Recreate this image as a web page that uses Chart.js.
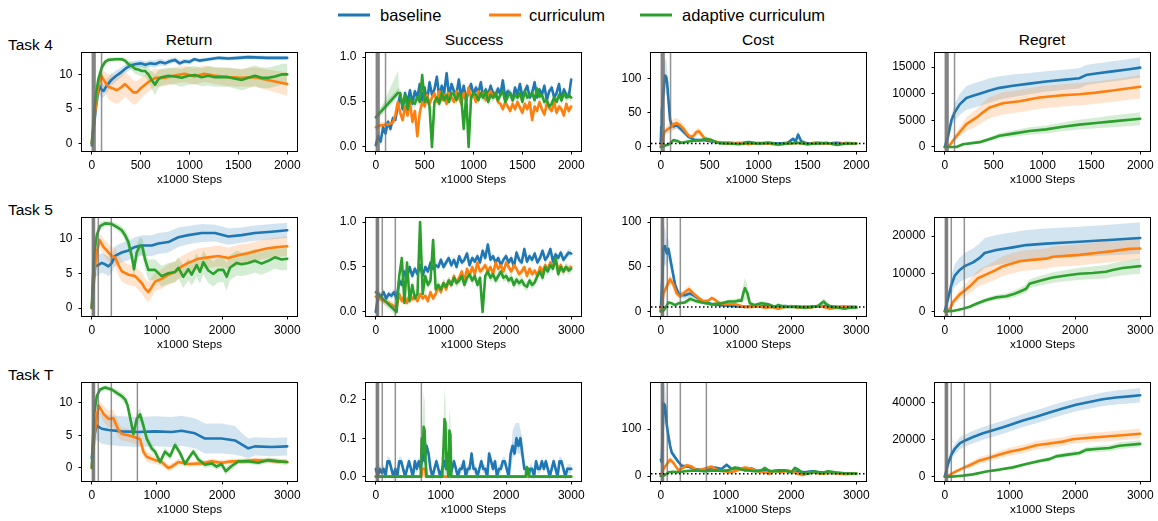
<!DOCTYPE html>
<html>
<head>
<meta charset="utf-8">
<script src="https://cdn.jsdelivr.net/npm/chart.js@4.4.1/dist/chart.umd.min.js"></script>
<style>
  body { margin: 0; background: #fff; width: 1158px; height: 521px; position: relative; overflow: hidden;
         font-family: "Liberation Sans", Arial, sans-serif; color: #000; }
  canvas { position: absolute; }
  .txt { position: absolute; white-space: nowrap; transform: translate(0, -50%); }
  .ctr { transform: translate(-50%, -50%); }
  .sw { position: absolute; height: 3px; transform: translate(0, -50%); }
</style>
</head>
<body>
<div class="sw" style="left:338px;top:15px;width:32px;background:#1f77b4"></div>
<div class="txt" style="left:380px;top:15px;font-size:16.5px">baseline</div>
<div class="sw" style="left:489px;top:15px;width:32px;background:#ff7f0e"></div>
<div class="txt" style="left:529px;top:15px;font-size:16.5px">curriculum</div>
<div class="sw" style="left:640px;top:15px;width:32px;background:#2ca02c"></div>
<div class="txt" style="left:682px;top:15px;font-size:16.5px">adaptive curriculum</div>

<div class="txt" style="left:8px;top:45px;font-size:15.5px">Task 4</div>
<div class="txt" style="left:8px;top:210px;font-size:15.5px">Task 5</div>
<div class="txt" style="left:8px;top:375px;font-size:15.5px">Task T</div>

<div class="txt ctr" style="left:189px;top:40px;font-size:15.5px">Return</div>
<div class="txt ctr" style="left:474px;top:40px;font-size:15.5px">Success</div>
<div class="txt ctr" style="left:758px;top:40px;font-size:15.5px">Cost</div>
<div class="txt ctr" style="left:1042px;top:40px;font-size:15.5px">Regret</div>

<script>
// ---------- axis ticks ----------
const xTicks2k = [0, 500, 1000, 1500, 2000];
const xLabels2k = ["0", "500", "1000", "1500", "2000"];
const xTicks3k = [0, 1000, 2000, 3000];
const xLabels3k = ["0", "1000", "2000", "3000"];
const retTicks = [0, 5, 10];
const retLabels = ["0", "5", "10"];
const sucTicks = [0, 0.5, 1];
const sucLabels = ["0.0", "0.5", "1.0"];
const sucTicksT = [0, 0.1, 0.2];
const sucLabelsT = ["0.0", "0.1", "0.2"];
const costTicks = [0, 50, 100];
const costLabels = ["0", "50", "100"];
const costTicksT = [0, 100];
const costLabelsT = ["0", "100"];
const regTicks4 = [0, 5000, 10000, 15000];
const regLabels4 = ["0", "5000", "10000", "15000"];
const regTicks5 = [0, 10000, 20000];
const regLabels5 = ["0", "10000", "20000"];
const regTicksT = [0, 20000, 40000];
const regLabelsT = ["0", "20000", "40000"];

// curriculum switch points (vertical grey lines)
const switches4 = [5, 15, 25, 35, 100];
const switches5 = [8, 20, 32, 42, 100, 300];
const switchesT = [8, 20, 32, 42, 100, 300, 700];
const costLimit = 5;

// ---------- Task 4 ----------
const t4RetBaseX = [0,20,40,60,80,100,120,150,200,250,300,350,400,450,500,550,600,650,700,750,800,850,900,950,1000,1050,1100,1200,1300,1400,1500,1600,1800,2000];
const t4RetBaseY = [-0.3,2,5,7,8.3,7.8,7.6,8.3,9.2,9.8,10.3,10.9,11.3,11.5,11.6,11.4,11.6,11.5,11.8,11.6,11.9,12.1,11.6,11.9,11.8,12.2,12.0,12.2,12.4,12.3,12.4,12.5,12.4,12.4];
const t4RetBaseW = [0.3,1,1.5,1.5,1.3,1.2,1,1,0.9,0.8,0.7,0.6,0.6,0.5,0.5,0.5,0.5,0.5,0.5,0.4,0.4,0.4,0.4,0.4,0.4,0.3,0.3,0.3,0.3,0.3,0.3,0.3,0.3,0.3];
const t4RetCurX = [0,25,50,75,100,130,170,210,255,300,340,375,425,460,510,580,650,750,850,950,1000,1050,1150,1250,1400,1530,1670,1800,1900,2000];
const t4RetCurY = [0,3.5,6.5,8.8,9.8,9.0,8.2,8.0,7.7,8.1,8.6,8.1,7.4,7.4,8.1,8.9,9.5,9.5,9.85,10.1,9.9,9.7,10.1,9.85,9.6,9.5,9.6,9.2,8.9,8.6];
const t4RetCurW = [0.2,1,1.5,1.5,1.3,1.5,1.8,2,2,2,1.8,1.8,1.8,1.6,1.5,1.4,1.3,1.2,1.2,1.2,1.2,1.2,1.2,1.2,1.3,1.3,1.4,1.5,1.6,1.7];
const t4RetAdaX = [0,17,41,68,102,136,170,240,307,340,375,409,443,477,511,545,579,613,647,681,715,784,852,920,988,1056,1124,1192,1261,1397,1533,1601,1670,1738,1806,1874,1942,2000];
const t4RetAdaY = [0,3,7,9.3,11,11.8,12.1,12.2,12.2,12.0,11.5,11.2,10.8,10.7,10.5,10.5,10.0,9.2,8.5,9.3,9.6,9.8,9.7,9.5,9.8,9.9,9.6,9.8,9.6,9.6,9.2,9.5,9.8,9.5,9.5,9.7,10.0,10.0];
const t4RetAdaW = [0.2,1,1.5,1,0.6,0.4,0.3,0.3,0.3,0.4,0.5,0.6,0.7,0.8,0.8,0.8,1,1.3,1.5,1.3,1.2,1.2,1.2,1.3,1.3,1.3,1.3,1.4,1.4,1.4,1.5,1.5,1.5,1.5,1.5,1.5,1.5,1.5];

const t4SucX = [0,25,50,75,100,125,150,175,200,225,250,275,300,325,350,375,400,425,450,475,500,525,550,575,600,625,650,675,700,725,750,775,800,825,850,875,900,925,950,975,1000,1025,1050,1075,1100,1125,1150,1175,1200,1225,1250,1275,1300,1325,1350,1375,1400,1425,1450,1475,1500,1525,1550,1575,1600,1625,1650,1675,1700,1725,1750,1775,1800,1825,1850,1875,1900,1925,1950,1975,2000];
const t4SucBaseY = [0.02,0.12,0.06,0.22,0.15,0.28,0.2,0.32,0.3,0.45,0.58,0.42,0.6,0.5,0.63,0.48,
  0.62,0.55,0.7,0.52,0.66,0.5,0.72,0.58,0.64,0.78,0.55,0.68,0.6,0.82,0.56,0.7,
  0.62,0.58,0.75,0.55,0.68,0.52,0.62,0.7,0.58,0.66,0.6,0.72,0.55,0.64,0.58,0.68,
  0.6,0.56,0.65,0.58,0.74,0.55,0.62,0.6,0.52,0.66,0.58,0.7,0.56,0.62,0.68,0.55,
  0.6,0.72,0.55,0.64,0.58,0.68,0.52,0.62,0.66,0.55,0.6,0.7,0.52,0.64,0.58,0.56,
  0.75];
const t4SucCurY = [0.22,0.23,0.24,0.24,0.25,0.25,0.26,0.27,0.35,0.5,0.38,0.3,0.45,0.35,0.5,0.28,
  0.4,0.12,0.38,0.5,0.45,0.58,0.48,0.55,0.6,0.5,0.62,0.52,0.58,0.48,0.6,0.55,
  0.5,0.62,0.55,0.48,0.6,0.52,0.66,0.55,0.58,0.5,0.62,0.56,0.6,0.52,0.58,0.62,
  0.55,0.6,0.5,0.48,0.42,0.5,0.45,0.4,0.48,0.42,0.5,0.44,0.38,0.48,0.42,0.5,
  0.3,0.45,0.4,0.5,0.42,0.36,0.48,0.44,0.4,0.5,0.38,0.45,0.42,0.35,0.48,0.4,
  0.45];
const t4SucAdaX = [0,225,250,275,300,325,350,375,400,425,450,475,500,525,550,575,600,625,650,675,700,725,750,775,800,825,850,875,900,925,950,975,1000,1025,1050,1075,1100,1125,1150,1175,1200,1225,1250,1275,1300,1325,1350,1375,1400,1425,1450,1475,1500,1525,1550,1575,1600,1625,1650,1675,1700,1725,1750,1775,1800,1825,1850,1875,1900,1925,1950,1975,2000];
const t4SucAdaY = [0.33,
  0.6,0.6,0.45,0.58,0.42,0.55,0.5,
  0.48,0.56,0.5,0.8,0.5,0.55,0.45,0.0,
  0.5,0.55,0.48,0.6,0.52,0.58,0.5,0.6,
  0.58,0.52,0.6,0.55,0.2,0.58,0.0,0.55,
  0.6,0.58,0.52,0.6,0.55,0.62,0.5,0.58,
  0.55,0.6,0.52,0.58,0.62,0.5,0.56,0.6,
  0.52,0.58,0.55,0.6,0.5,0.62,0.55,0.58,
  0.6,0.52,0.65,0.56,0.58,0.5,0.52,0.45,
  0.48,0.55,0.5,0.58,0.52,0.6,0.55,0.58,
  0.55];
const t4SucAdaFlareX = [0,40,228,240];
const t4SucAdaFlareLo = [0.33,0.37,0.6,0.55];
const t4SucAdaFlareHi = [0.33,0.4,0.85,0.6];

const t4CostBaseX = [0,5,10,20,30,44,55,65,78,95,110,129,163,214,282,350,452,520,600,700,800,900,1000,1100,1200,1300,1353,1380,1405,1439,1500,1600,1700,1800,1900,2000];
const t4CostBaseY = [5,30,50,70,85,105,103,95,70,40,32,30,32,25,15,10,10,8,6,6,5,7,5,6,5,6,12,8,18,8,5,6,5,6,5,5];
const t4CostBaseW = [2,10,15,20,25,25,25,20,15,8,6,6,5,4,3,3,2,2,2,2,2,2,2,2,2,2,3,2,6,2,2,2,2,2,2,2];
const t4CostCurX = [0,20,37,61,95,129,163,197,231,265,299,333,367,391,418,452,503,554,622,700,800,900,1000,1100,1200,1300,1400,1500,1600,1700,1800,1900,2000];
const t4CostCurY = [0,10,22,25,28,33,35,32,27,20,15,16,22,23,18,12,10,8,6,5,6,4,6,5,3,5,6,4,6,5,4,6,5];
const t4CostCurW = [0,3,5,6,7,8,8,7,6,5,4,4,5,5,4,3,3,2,2,1.5,1.5,1.5,1.5,1.5,1.5,1.5,1.5,1.5,1.5,1.5,1.5,1.5,1.5];
const t4CostAdaX = [0,20,44,70,95,129,163,214,282,350,418,469,520,588,650,700,800,900,1000,1100,1200,1300,1400,1500,1600,1700,1800,1900,2000];
const t4CostAdaY = [0,0,2,3,5,10,9,6,8,9,10,12,10,6,5,5,4,6,5,6,4,5,6,4,5,6,3,5,5];
const t4CostAdaW = [0,0.5,1,1.5,2,2,2,2,2,2,2,2,2,1.5,1.5,1.5,1.5,1.5,1.5,1.5,1.5,1.5,1.5,1.5,1.5,1.5,1.5,1.5,1.5];

const t4RegBaseX = [0,34,68,102,153,221,289,357,459,561,697,867,1037,1207,1377,1445,1547,1717,1888,2000];
const t4RegBaseY = [0,2000,5000,6500,8000,9200,9600,10000,10600,11100,11500,11900,12300,12600,12900,13500,13800,14200,14600,14900];
const t4RegBaseW = [0,500,1200,1600,2000,2200,2300,2300,2300,2200,2100,2000,1900,1900,1900,1900,1900,1900,1900,1900];
const t4RegCurX = [0,51,85,153,221,323,391,459,595,765,969,1207,1377,1547,1717,2000];
const t4RegCurY = [0,300,1200,2800,4300,5500,6500,7400,8200,8600,9300,9700,9900,10200,10600,11300];
const t4RegCurW = [0,200,500,900,1300,1600,1800,2000,2100,2100,2100,2100,2100,2100,2100,2200];
const t4RegAdaX = [0,60,119,187,357,493,561,697,867,1037,1207,1377,1547,1717,2000];
const t4RegAdaY = [0,0,0,500,900,1700,2100,2500,3000,3300,3800,4200,4500,4800,5300];
const t4RegAdaW = [0,50,100,200,300,400,500,600,700,750,800,900,1000,1100,1200];

// ---------- Task 5 ----------
const t5RetBaseX = [0,26,51,102,153,204,256,307,358,460,562,664,767,920,1022,1175,1329,1482,1687,1891,2096,2300,2504,2760,3000];
const t5RetBaseY = [0,3,6.0,6.2,6.5,6.3,6.0,6.5,7.5,8.0,8.3,8.8,9.0,9.0,9.3,9.5,10.2,10.5,10.8,10.8,10.3,10.5,10.8,11.0,11.2];
const t5RetBaseW = [0.2,1,1.5,1.5,1.4,1.4,1.4,1.4,1.4,1.4,1.4,1.4,1.5,1.5,1.5,1.5,1.4,1.3,1.3,1.2,1.2,1.1,1.1,1.1,1.1];
const t5RetCurX = [0,26,77,118,179,256,307,358,409,460,562,664,767,818,869,920,971,1073,1175,1278,1380,1482,1636,1789,1942,2096,2249,2402,2555,2709,2862,3000];
const t5RetCurY = [0,4,8,9.8,8.8,8.0,7.5,7.3,6.2,5.3,4.8,4.6,3.6,2.8,2.3,3,3.8,4.2,4.8,5.2,6.0,6.5,7.1,7.3,7.5,7.2,7.6,7.9,8.3,8.6,8.8,8.9];
const t5RetCurW = [0.2,1,1.2,1,1.2,1.3,1.3,1.4,1.5,1.5,1.5,1.5,1.5,1.5,1.4,1.4,1.4,1.4,1.5,1.5,1.5,1.5,1.5,1.5,1.5,1.5,1.5,1.4,1.4,1.4,1.4,1.4];
const t5RetAdaX = [0,15,41,77,128,204,307,383,460,511,562,613,649,690,741,777,818,869,971,1073,1175,1278,1329,1405,1482,1533,1610,1661,1712,1789,1866,1942,2019,2070,2121,2224,2300,2402,2504,2606,2709,2811,2913,3000];
const t5RetAdaY = [0,4,8,10.5,11.8,12.2,12.1,11.7,11.2,10.5,9.5,7.5,5.6,8,9.0,8.8,7.0,5.5,5.5,4.6,5.0,5.2,5.8,4.5,5.6,4.8,6.2,5.2,6.6,5.4,4.9,5.5,5.5,4.5,5.8,6.5,6.3,6.5,6.8,6.4,6.8,7.3,7.0,7.1];
const t5RetAdaW = [0.2,1,1.2,1,0.6,0.4,0.4,0.5,0.6,0.8,1,1.2,1.2,1.2,1.2,1.2,1.4,1.5,1.5,1.5,1.5,1.5,1.5,1.6,1.6,1.6,1.7,1.7,1.7,1.8,1.8,1.8,1.8,2,1.8,1.8,1.7,1.7,1.7,1.6,1.6,1.6,1.6,1.6];

const t5SucX = [0,40,80,120,160,200,240,280,320,360,400,440,480,520,560,600,640,680,720,760,800,840,880,920,960,1000,1040,1080,1120,1160,1200,1240,1280,1320,1360,1400,1440,1480,1520,1560,1600,1640,1680,1720,1760,1800,1840,1880,1920,1960,2000,2040,2080,2120,2160,2200,2240,2280,2320,2360,2400,2440,2480,2520,2560,2600,2640,2680,2720,2760,2800,2840,2880,2920,2960,3000];
const t5SucBaseY = [0.0,0.2,0.17,0.22,0.15,0.2,0.18,0.22,
  0.15,0.35,0.3,0.45,0.38,0.5,0.4,0.48,
  0.42,0.52,0.4,0.5,0.45,0.55,0.48,0.52,
  0.5,0.58,0.5,0.55,0.6,0.52,0.58,0.5,
  0.62,0.55,0.58,0.65,0.52,0.6,0.56,0.62,
  0.55,0.68,0.6,0.75,0.58,0.62,0.55,0.6,
  0.52,0.58,0.62,0.55,0.6,0.5,0.66,0.58,
  0.55,0.7,0.56,0.62,0.58,0.65,0.55,0.6,
  0.68,0.58,0.62,0.7,0.56,0.64,0.6,0.66,
  0.58,0.62,0.66,0.65];
const t5SucLateX = [0,320,360,400,440,480,520,560,600,640,680,720,760,800,840,880,920,960,1000,1040,1080,1120,1160,1200,1240,1280,1320,1360,1400,1440,1480,1520,1560,1600,1640,1680,1720,1760,1800,1840,1880,1920,1960,2000,2040,2080,2120,2160,2200,2240,2280,2320,2360,2400,2440,2480,2520,2560,2600,2640,2680,2720,2760,2800,2840,2880,2920,2960,3000];
const t5SucCurY = [0.17,
  0.05,0.2,0.12,0.18,0.1,0.2,0.14,0.18,
  0.12,0.2,0.15,0.18,0.12,0.22,0.15,0.2,
  0.28,0.22,0.32,0.25,0.35,0.3,0.4,0.33,
  0.38,0.45,0.35,0.48,0.4,0.5,0.42,0.55,
  0.45,0.48,0.52,0.45,0.5,0.42,0.55,0.48,
  0.52,0.45,0.55,0.5,0.45,0.52,0.48,0.42,
  0.45,0.5,0.4,0.48,0.42,0.46,0.4,0.5,
  0.45,0.52,0.48,0.55,0.5,0.58,0.48,0.52,
  0.45,0.5,0.48,0.5];
const t5SucAdaY = [0.22,
  0.0,0.4,0.6,0.1,0.55,0.12,0.3,0.15,
  0.2,1.0,0.2,0.4,0.3,0.35,0.8,0.25,
  0.3,0.25,0.32,0.28,0.35,0.3,0.38,0.32,
  0.35,0.4,0.3,0.38,0.42,0.35,0.4,0.3,
  0.38,0.0,0.4,0.45,0.38,0.42,0.35,0.4,
  0.45,0.38,0.4,0.35,0.38,0.3,0.36,0.32,
  0.35,0.3,0.28,0.35,0.3,0.33,0.4,0.45,
  0.38,0.5,0.45,0.52,0.48,0.6,0.42,0.5,
  0.45,0.5,0.46,0.48];

const t5CostBaseX = [0,15,26,41,66,92,117,143,168,219,270,321,372,449,526,628,781,934,1100,1300,1500,1700,1900,2100,2300,2500,2700,2900,3000];
const t5CostBaseY = [0,25,40,72,73,65,70,60,50,30,20,18,18,20,17,12,8,7,6,5,6,5,6,5,5,6,5,5,5];
const t5CostBaseW = [0,8,15,25,20,15,12,10,8,6,4,4,4,4,3,3,2,2,2,1.5,1.5,1.5,1.5,1.5,1.5,1.5,1.5,1.5,1.5];
const t5CostCurX = [0,20,41,92,143,194,245,296,347,398,434,500,577,653,730,781,832,883,985,1138,1291,1400,1500,1600,1700,1800,1900,2000,2100,2200,2300,2400,2500,2600,2700,2800,2900,3000];
const t5CostCurY = [0,8,20,28,36,30,20,17,20,23,25,20,15,11,12,15,13,10,8,8,5,5,6,4,5,3,5,6,4,5,4,6,5,3,4,5,4,4];
const t5CostCurW = [0,2,4,5,5,5,4,3,4,4,4,3,3,2,2,2,2,2,2,2,1.5,1.5,1.5,1.5,1.5,1.5,1.5,1.5,1.5,1.5,1.5,1.5,1.5,1.5,1.5,1.5,1.5,1.5];
const t5CostAdaX = [0,30,66,117,168,219,270,372,449,526,628,781,934,1036,1138,1189,1240,1265,1291,1332,1367,1444,1546,1648,1750,1801,1903,2005,2107,2209,2311,2413,2464,2500,2541,2617,2719,2821,2898,3000];
const t5CostAdaY = [0,0,3,10,9,7,9,10,14,12,10,8,9,11,11,12,12,20,26,20,9,7,9,8,5,7,5,5,5,4,5,6,9,11,8,5,4,3,4,4];
const t5CostAdaW = [0,0.5,1,2,2,2,2,2,3,3,2,2,2,2,3,3,3,8,12,8,3,2,3,2,2,2,1.5,1.5,1.5,1.5,1.5,1.5,3,4,3,1.5,1.5,1.5,1.5,1.5];

const t5RegBaseX = [0,51,102,153,230,306,434,536,612,791,1046,1250,1556,2066,2576,3000];
const t5RegBaseY = [0,3500,7000,9500,11000,12000,13000,14200,15500,16300,17000,17600,18000,18500,19000,19500];
const t5RegBaseW = [0,1500,2500,3000,3300,3500,3700,3900,4000,4000,4000,4000,4000,4000,4100,4200];
const t5RegCurX = [0,77,128,230,306,408,510,638,765,893,1046,1148,1301,1556,1658,2066,2321,2576,2831,3000];
const t5RegCurY = [0,500,2500,4500,5500,7000,8800,9800,10800,12000,12800,13300,13600,14000,14500,15000,15500,16000,16600,16700];
const t5RegCurW = [0,300,800,1300,1600,1900,2200,2400,2500,2600,2700,2700,2700,2700,2700,2800,2800,2900,3000,3000];
const t5RegAdaX = [0,100,179,281,383,485,638,791,944,1046,1148,1250,1301,1352,1505,1658,1862,2066,2270,2474,2576,2729,3000];
const t5RegAdaY = [0,0,300,700,1200,2000,3000,3700,4000,4500,5200,6000,7300,7600,8300,9000,9500,10000,10200,10500,11000,11500,12000];
const t5RegAdaW = [0,50,150,250,350,500,600,700,800,900,1000,1100,1200,1200,1300,1400,1500,1600,1700,1800,1800,1900,2000];

// ---------- Task T ----------
const tTRetBaseX = [0,20,41,77,153,256,460,716,971,1227,1380,1584,1738,1993,2198,2300,2402,2504,2760,3000];
const tTRetBaseY = [1.5,3.5,5,6.5,6.0,5.8,5.6,5.5,5.6,5.5,5.7,5.3,4.5,4.5,4.2,3.6,3.0,3.3,3.2,3.3];
const tTRetBaseW = [0.5,1.5,2,2.2,2.3,2.3,2.3,2.3,2.3,2.3,2.3,2.3,2.3,2.3,2.2,1.8,1.5,1.4,1.4,1.4];
const tTRetCurX = [0,41,102,179,256,332,409,460,562,664,741,792,843,971,1073,1175,1227,1329,1482,1687,1840,1993,2147,2300,2504,2709,2862,3000];
const tTRetCurY = [0,5,9.6,8.3,7.5,7.6,5.8,5.2,5.0,4.7,4.4,2.5,1.7,1.2,0.9,0.0,0.2,0.9,0.6,0.7,1.0,0.8,1.0,1.0,1.2,1.1,1.0,0.9];
const tTRetCurW = [0,1,1,1.2,1.3,1.3,1.2,1,1,1,1,0.8,0.8,0.6,0.6,0.5,0.5,0.5,0.4,0.4,0.4,0.4,0.4,0.4,0.4,0.4,0.4,0.4];
const tTRetAdaX = [0,15,41,77,128,204,307,383,460,511,552,603,639,690,741,792,843,920,971,1048,1124,1201,1278,1354,1431,1508,1559,1636,1738,1840,1916,1993,2055,2147,2249,2402,2555,2709,2862,3000];
const tTRetAdaY = [0,4,8.5,11.0,12.0,12.3,12.0,11.5,11.0,10.5,9.5,7.0,5.2,7.5,8.2,6.5,4.5,3.0,2.5,0.9,2.5,1.8,3.5,2.3,0.6,1.8,2.5,1.3,0.5,0.7,0.2,0.6,-0.5,0.3,1.0,1.0,0.8,1.2,1.0,0.9];
const tTRetAdaW = [0,1,1,0.6,0.4,0.4,0.4,0.5,0.6,0.7,0.8,1,1,1,1,1,0.8,0.7,0.6,0.5,0.6,0.6,0.6,0.6,0.5,0.5,0.5,0.5,0.5,0.5,0.5,0.5,0.6,0.5,0.4,0.4,0.4,0.4,0.4,0.4];

const tTSucX = [0,30,60,90,120,150,180,210,240,270,300,330,360,390,420,450,480,510,540,570,600,630,660,690,720,750,780,810,840,870,900,930,960,990,1020,1050,1080,1110,1140,1170,1200,1230,1260,1290,1320,1350,1380,1410,1440,1470,1500,1530,1560,1590,1620,1650,1680,1710,1740,1770,1800,1830,1860,1890,1920,1950,1980,2010,2040,2070,2100,2130,2160,2190,2220,2250,2280,2310,2340,2370,2400,2430,2460,2490,2520,2550,2580,2610,2640,2670,2700,2730,2760,2790,2820,2850,2880,2910,2940,2970,3000];
const tTSucBaseY = [0.02,0,0.02,0.01,0.02,0,0.04,0.04,0.02,0,
  0.02,0,0.04,0.04,0.02,0,0.02,0.04,0.02,0,
  0.04,0.02,0.04,0.02,0.06,0.04,0.08,0.06,0.02,0,
  0.02,0.04,0.02,0,0.02,0.04,0.02,0.02,0,0.02,
  0.04,0.02,0,0.02,0.02,0.04,0,0.02,0.02,0.06,
  0.02,0.02,0,0.02,0.04,0.02,0.02,0,0.06,0.04,
  0.02,0.04,0,0.02,0.02,0.04,0.04,0.02,0,0.06,
  0.08,0.06,0.1,0.08,0.1,0.06,0.02,0.02,0,0.02,
  0.02,0,0.04,0.02,0.02,0.04,0.02,0.04,0.02,0,
  0.02,0.04,0.02,0,0.04,0.04,0.02,0,0.02,0.02,
  0.02];
const tTSucBaseFlareX = [2070,2100,2150,2200,2250,2280];
const tTSucBaseFlareLo = [0,0.05,0.06,0.06,0.05,0];
const tTSucBaseFlareHi = [0.02,0.12,0.14,0.14,0.1,0.02];
const tTSucCurX = [0,700,710,760,770,3000];
const tTSucCurY = [0,0,0.02,0.02,0,0];
const tTSucAdaX = [0,690,705,720,735,750,765,780,800,1020,1040,1055,1070,1085,1100,1115,1130,1145,1160,2300,2320,2340,2360,3000];
const tTSucAdaY = [0,0,0.1,0.06,0.13,0.12,0.04,0.0,0,0,0.08,0.15,0.14,0.02,0.06,0.0,0.12,0.11,0,0,0.025,0.02,0,0];
const tTSucAdaFlareX = [690,720,735,750,780,1020,1055,1070,1100,1130,1145,1170];
const tTSucAdaFlareLo = [0,0,0,0,0,0,0,0,0,0,0,0];
const tTSucAdaFlareHi = [0,0.15,0.22,0.2,0,0,0.23,0.2,0,0.18,0.15,0];

const tTCostBaseX = [0,15,31,41,66,92,117,143,168,219,270,321,423,526,628,730,832,934,1010,1087,1189,1291,1393,1495,1597,1699,1801,1903,2005,2107,2209,2311,2515,2719,3000];
const tTCostBaseY = [35,30,100,155,150,110,85,65,50,40,30,22,20,15,13,15,18,15,24,15,17,12,16,10,14,10,12,12,8,10,8,10,7,6,5];
const tTCostBaseW = [10,15,40,45,40,25,15,10,8,6,4,3,3,3,3,3,3,3,4,3,3,3,3,3,3,3,3,3,2,2,2,2,2,2,2];
const tTCostCurX = [0,41,92,143,194,270,347,398,474,551,653,730,781,883,985,1061,1138,1214,1291,1393,1495,1597,1673,1750,1852,1954,2107,2184,2311,2464,2617,2821,3000];
const tTCostCurY = [0,15,25,35,28,12,18,23,20,12,15,18,20,12,10,8,10,15,18,15,10,8,5,12,8,12,5,2,8,5,7,4,5];
const tTCostCurW = [0,5,6,6,5,4,4,4,4,3,3,4,4,3,3,3,3,4,4,4,3,3,3,4,3,4,3,3,3,3,3,2,2];
const tTCostAdaX = [0,30,66,117,194,270,372,526,679,832,934,1036,1138,1240,1342,1444,1546,1597,1673,1801,1903,2005,2056,2107,2184,2260,2362,2464,2566,2668,2821,3000];
const tTCostAdaY = [0,0,2,8,9,8,10,12,10,12,11,12,18,14,12,10,12,17,10,10,12,8,17,14,6,5,10,6,10,8,6,5];
const tTCostAdaW = [0,0.5,1,2,2,2,2,3,3,3,3,3,4,4,3,3,4,6,3,3,3,3,6,4,3,3,3,3,4,3,2,2];

const tTRegBaseX = [0,51,102,153,230,306,434,587,740,893,1020,1199,1403,1607,1811,2015,2219,2423,2627,2831,3000];
const tTRegBaseY = [0,7000,12000,15000,18000,19500,21500,23500,25200,26800,28300,30500,32500,34800,37000,39000,40500,42000,43000,43600,44200];
const tTRegBaseW = [0,1500,2500,3000,3200,3300,3400,3500,3500,3500,3500,3500,3500,3500,3500,3500,3600,3700,3800,3900,4000];
const tTRegCurX = [0,50,102,179,306,434,536,689,842,995,1199,1403,1607,1811,1964,2168,2474,2729,3000];
const tTRegCurY = [0,300,1500,3000,5000,7000,8800,10200,12000,13500,15000,17000,18000,19000,20300,21000,21800,22500,23300];
const tTRegCurW = [0,200,500,900,1300,1600,1800,2000,2100,2200,2300,2300,2400,2400,2500,2500,2600,2700,2800];
const tTRegAdaX = [0,100,180,281,434,638,842,1046,1250,1454,1607,1709,1862,2066,2168,2321,2525,2678,3000];
const tTRegAdaY = [0,0,200,500,1200,2800,3800,5000,6800,8500,9500,11000,11800,12800,14500,15000,15500,16800,17800];
const tTRegAdaW = [0,50,100,200,300,500,600,700,800,1000,1100,1200,1300,1400,1500,1600,1700,1800,1900];

// ---------- drawing ----------
const BLUE = "#1f77b4", ORANGE = "#ff7f0e", GREEN = "#2ca02c";
const FILL = { [BLUE]: "rgba(31,119,180,0.2)", [ORANGE]: "rgba(255,127,14,0.2)", [GREEN]: "rgba(44,160,44,0.2)" };

Chart.defaults.font.family = '"Liberation Sans", Arial, sans-serif';
Chart.defaults.font.size = 12;
Chart.defaults.color = "#000";

const boxLeft = [82, 366, 651, 935];
const boxTop = [53, 218, 383];
const BOX_W = 215, BOX_H = 98, PAD_L = 70, PAD_T = 8, PAD_R = 8, PAD_B = 5, XAXIS_H = 36;

function ser(color, x, y, w, flare) { return { color, x, y, w, flare }; }

const panels = [
  { row: 0, col: 0, xr: [-100, 2100], yr: [-1.1, 13.1], xt: xTicks2k, xl: xLabels2k, yt: retTicks, yl: retLabels, vl: switches4,
    series: [ser(BLUE, t4RetBaseX, t4RetBaseY, t4RetBaseW), ser(ORANGE, t4RetCurX, t4RetCurY, t4RetCurW), ser(GREEN, t4RetAdaX, t4RetAdaY, t4RetAdaW)] },
  { row: 0, col: 1, xr: [-100, 2100], yr: [-0.045, 1.045], xt: xTicks2k, xl: xLabels2k, yt: sucTicks, yl: sucLabels, vl: switches4,
    series: [ser(BLUE, t4SucX, t4SucBaseY, 0.04), ser(ORANGE, t4SucX, t4SucCurY, 0.04),
             ser(GREEN, t4SucAdaX, t4SucAdaY, 0.05, { x: t4SucAdaFlareX, lo: t4SucAdaFlareLo, hi: t4SucAdaFlareHi })] },
  { row: 0, col: 2, xr: [-100, 2100], yr: [-6, 138], xt: xTicks2k, xl: xLabels2k, yt: costTicks, yl: costLabels, vl: switches4, limit: costLimit,
    series: [ser(BLUE, t4CostBaseX, t4CostBaseY, t4CostBaseW), ser(ORANGE, t4CostCurX, t4CostCurY, t4CostCurW), ser(GREEN, t4CostAdaX, t4CostAdaY, t4CostAdaW)] },
  { row: 0, col: 3, xr: [-100, 2100], yr: [-760, 17650], xt: xTicks2k, xl: xLabels2k, yt: regTicks4, yl: regLabels4, vl: switches4,
    series: [ser(BLUE, t4RegBaseX, t4RegBaseY, t4RegBaseW), ser(ORANGE, t4RegCurX, t4RegCurY, t4RegCurW), ser(GREEN, t4RegAdaX, t4RegAdaY, t4RegAdaW)] },

  { row: 1, col: 0, xr: [-150, 3150], yr: [-1.15, 12.97], xt: xTicks3k, xl: xLabels3k, yt: retTicks, yl: retLabels, vl: switches5,
    series: [ser(BLUE, t5RetBaseX, t5RetBaseY, t5RetBaseW), ser(ORANGE, t5RetCurX, t5RetCurY, t5RetCurW), ser(GREEN, t5RetAdaX, t5RetAdaY, t5RetAdaW)] },
  { row: 1, col: 1, xr: [-150, 3150], yr: [-0.045, 1.045], xt: xTicks3k, xl: xLabels3k, yt: sucTicks, yl: sucLabels, vl: switches5,
    series: [ser(BLUE, t5SucX, t5SucBaseY, 0.04), ser(ORANGE, t5SucLateX, t5SucCurY, 0.04), ser(GREEN, t5SucLateX, t5SucAdaY, 0.05)] },
  { row: 1, col: 2, xr: [-150, 3150], yr: [-5.2, 104.6], xt: xTicks3k, xl: xLabels3k, yt: costTicks, yl: costLabels, vl: switches5, limit: costLimit,
    series: [ser(BLUE, t5CostBaseX, t5CostBaseY, t5CostBaseW), ser(ORANGE, t5CostCurX, t5CostCurY, t5CostCurW), ser(GREEN, t5CostAdaX, t5CostAdaY, t5CostAdaW)] },
  { row: 1, col: 3, xr: [-150, 3150], yr: [-1250, 24800], xt: xTicks3k, xl: xLabels3k, yt: regTicks5, yl: regLabels5, vl: switches5,
    series: [ser(BLUE, t5RegBaseX, t5RegBaseY, t5RegBaseW), ser(ORANGE, t5RegCurX, t5RegCurY, t5RegCurW), ser(GREEN, t5RegAdaX, t5RegAdaY, t5RegAdaW)] },

  { row: 2, col: 0, xr: [-150, 3150], yr: [-2.0, 13.0], xt: xTicks3k, xl: xLabels3k, yt: retTicks, yl: retLabels, vl: switchesT,
    series: [ser(BLUE, tTRetBaseX, tTRetBaseY, tTRetBaseW), ser(ORANGE, tTRetCurX, tTRetCurY, tTRetCurW), ser(GREEN, tTRetAdaX, tTRetAdaY, tTRetAdaW)] },
  { row: 2, col: 1, xr: [-150, 3150], yr: [-0.0115, 0.244], xt: xTicks3k, xl: xLabels3k, yt: sucTicksT, yl: sucLabelsT, vl: switchesT,
    series: [ser(BLUE, tTSucX, tTSucBaseY, 0.012, { x: tTSucBaseFlareX, lo: tTSucBaseFlareLo, hi: tTSucBaseFlareHi }),
             ser(ORANGE, tTSucCurX, tTSucCurY, 0),
             ser(GREEN, tTSucAdaX, tTSucAdaY, 0, { x: tTSucAdaFlareX, lo: tTSucAdaFlareLo, hi: tTSucAdaFlareHi })] },
  { row: 2, col: 2, xr: [-150, 3150], yr: [-10.6, 198], xt: xTicks3k, xl: xLabels3k, yt: costTicksT, yl: costLabelsT, vl: switchesT, limit: costLimit,
    series: [ser(BLUE, tTCostBaseX, tTCostBaseY, tTCostBaseW), ser(ORANGE, tTCostCurX, tTCostCurY, tTCostCurW), ser(GREEN, tTCostAdaX, tTCostAdaY, tTCostAdaW)] },
  { row: 2, col: 3, xr: [-150, 3150], yr: [-2400, 50860], xt: xTicks3k, xl: xLabels3k, yt: regTicksT, yl: regLabelsT, vl: switchesT,
    series: [ser(BLUE, tTRegBaseX, tTRegBaseY, tTRegBaseW), ser(ORANGE, tTRegCurX, tTRegCurY, tTRegCurW), ser(GREEN, tTRegAdaX, tTRegAdaY, tTRegAdaW)] }
];

function pts(xs, ys) { return xs.map((x, i) => ({ x: x, y: ys[i] })); }
function edge(xs, ys, w, sign) {
  return xs.map((x, i) => ({ x: x, y: ys[i] + sign * (Array.isArray(w) ? w[i] : w) }));
}
function bandSets(hi, lo, color, order) {
  return [
    { data: hi, fill: "+1", backgroundColor: FILL[color], borderWidth: 0, pointRadius: 0, order: order },
    { data: lo, fill: false, borderWidth: 0, pointRadius: 0, order: order }
  ];
}

// outer frame like matplotlib spines
const framePlugin = {
  id: "frame",
  afterDraw(chart) {
    const a = chart.chartArea, g = chart.ctx;
    g.save();
    g.strokeStyle = "#000";
    g.lineWidth = 1;
    g.strokeRect(a.left - 0.5, a.top - 0.5, a.right - a.left + 1, a.bottom - a.top + 1);
    g.restore();
  }
};

function makeChart(p) {
  const cv = document.createElement("canvas");
  const W = PAD_L + BOX_W + PAD_R, H = PAD_T + BOX_H + XAXIS_H + PAD_B;
  cv.width = W; cv.height = H;
  cv.style.left = (boxLeft[p.col] - PAD_L) + "px";
  cv.style.top = (boxTop[p.row] - PAD_T) + "px";
  cv.style.width = W + "px"; cv.style.height = H + "px";
  document.body.appendChild(cv);

  const datasets = [];
  // bands (underneath)
  p.series.forEach((s, k) => {
    const ord = 20 - k;
    if (!(s.w === 0)) datasets.push(...bandSets(edge(s.x, s.y, s.w, 1), edge(s.x, s.y, s.w, -1), s.color, ord));
    if (s.flare) datasets.push(...bandSets(pts(s.flare.x, s.flare.hi), pts(s.flare.x, s.flare.lo), s.color, ord));
  });
  // mean lines, green on top
  p.series.forEach((s, k) => {
    datasets.push({ data: pts(s.x, s.y), borderColor: s.color, borderWidth: 2.6, pointRadius: 0, fill: false,
                    borderJoinStyle: "round", borderCapStyle: "round", order: 5 - k });
  });
  // switch markers
  p.vl.forEach(v => {
    datasets.push({ data: [{ x: v, y: p.yr[0] }, { x: v, y: p.yr[1] }], borderColor: "rgba(110,110,110,0.75)",
                    borderWidth: 1.5, pointRadius: 0, fill: false, order: 1 });
  });
  if (p.limit !== undefined) {
    datasets.push({ data: [{ x: p.xr[0], y: p.limit }, { x: p.xr[1], y: p.limit }], borderColor: "#000",
                    borderWidth: 1.5, borderDash: [1.5, 2.5], pointRadius: 0, fill: false, order: 0 });
  }

  const gridOpts = { display: true, drawOnChartArea: false, drawTicks: true, tickLength: 3.5, color: "#000", lineWidth: 1 };

  new Chart(cv, {
    type: "line",
    data: { datasets: datasets },
    options: {
      responsive: false, animation: false, devicePixelRatio: 1,
      layout: { padding: { top: PAD_T, right: PAD_R, bottom: PAD_B, left: 0 } },
      plugins: { legend: { display: false }, tooltip: { enabled: false } },
      elements: { line: { tension: 0 }, point: { radius: 0 } },
      scales: {
        x: {
          type: "linear", min: p.xr[0], max: p.xr[1],
          afterBuildTicks: s => { s.ticks = p.xt.map(v => ({ value: v })); },
          afterFit: s => { s.height = XAXIS_H; s.paddingLeft = 0; s.paddingRight = 0; },
          ticks: { autoSkip: false, maxRotation: 0, padding: 4, callback: (v, i) => p.xl[i] },
          grid: gridOpts, border: { display: false },
          title: { display: true, text: "x1000 Steps", padding: 0, font: { size: 11.7 } }
        },
        y: {
          type: "linear", min: p.yr[0], max: p.yr[1],
          afterBuildTicks: s => { s.ticks = p.yt.map(v => ({ value: v })); },
          afterFit: s => { s.width = PAD_L; s.paddingTop = 0; s.paddingBottom = 0; },
          ticks: { autoSkip: false, padding: 6, callback: (v, i) => p.yl[i] },
          grid: gridOpts, border: { display: false }
        }
      }
    },
    plugins: [framePlugin]
  });
}

panels.forEach(makeChart);
</script>
</body>
</html>
